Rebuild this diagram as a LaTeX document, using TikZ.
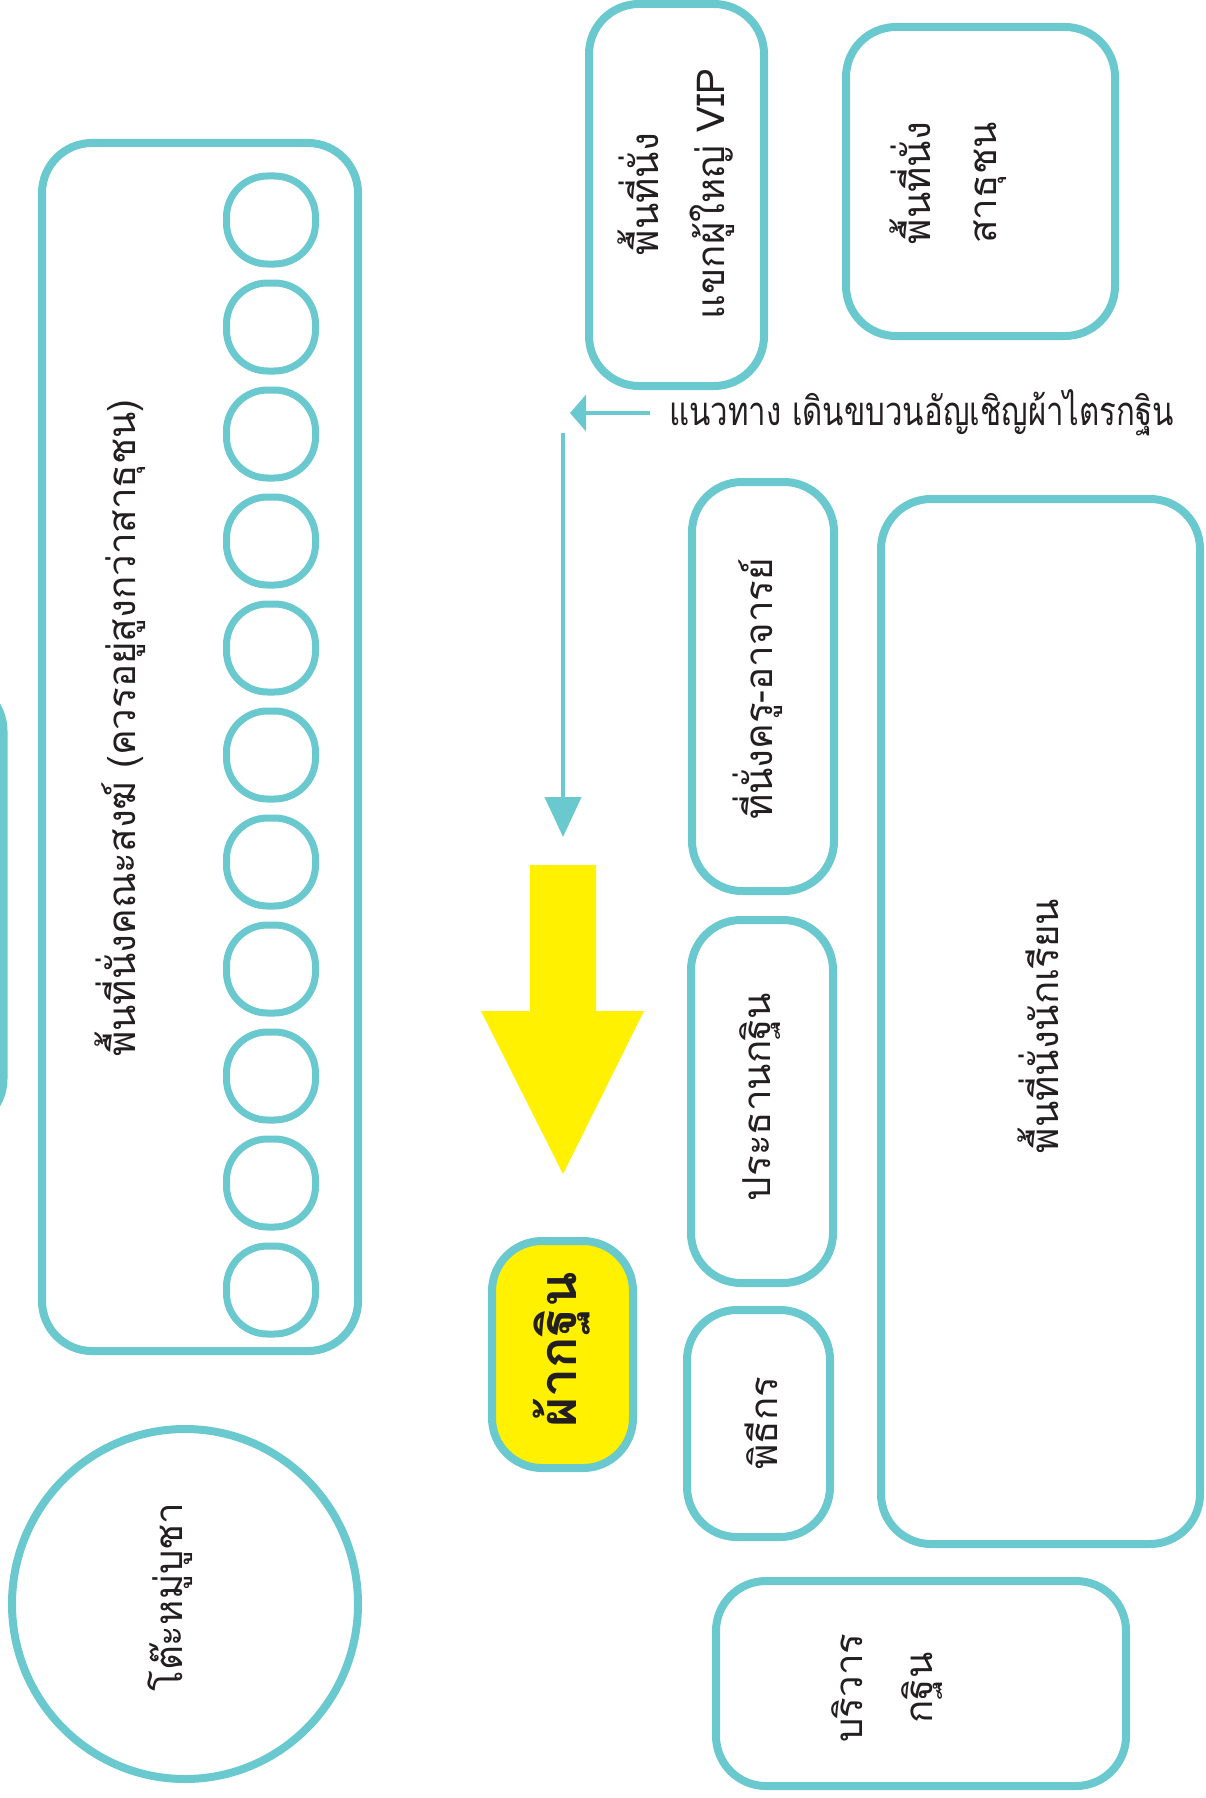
\documentclass[tikz,border=0pt]{standalone}
\usepackage{fontspec}
\newfontfamily\thai[Script=Thai]{Loma}
\newfontfamily\thaicond[Script=Thai,FakeStretch=0.78]{Loma}
\usetikzlibrary{arrows.meta,shapes.geometric}
\definecolor{tealc}{RGB}{106,200,207}
\definecolor{yell}{RGB}{255,241,0}
\definecolor{ink}{RGB}{35,31,32}
\begin{document}
\begin{tikzpicture}[x=1pt,y=-1pt,
  zone/.style={draw=tealc, line width=8pt, rounded corners=50pt, rectangle, inner sep=0pt},
  seat/.style={draw=tealc, line width=7pt, rounded corners=41pt, rectangle, minimum width=89pt, minimum height=88pt, inner sep=0pt},
  lbl/.style={font=\thai\fontsize{38.5}{66}\selectfont, text=ink, rotate=90, align=center, inner sep=0pt},
  flow/.style={draw=tealc, line width=4.5pt},
]
\useasboundingbox (0,0) rectangle (1206,1798);
\clip (0,0) rectangle (1206,1798);
% zones
\node[zone, minimum width=316pt, minimum height=1208pt] (sangha) at (200,747) {};
\node[zone, minimum width=103pt, minimum height=448pt] (side) at (-48,905) {};
\node[draw=tealc, line width=8pt, ellipse, minimum width=346pt, minimum height=350pt, inner sep=0pt] (altar) at (185,1604) {};
\node[zone, minimum width=175pt, minimum height=382pt] (vip) at (676.5,195) {};
\node[zone, minimum width=269pt, minimum height=309pt] (public) at (980.5,181.5) {};
\node[zone, minimum width=142pt, minimum height=409pt] (teacher) at (763,686.5) {};
\node[zone, minimum width=142pt, minimum height=363pt] (chair) at (762,1101.5) {};
\node[zone, minimum width=143pt, minimum height=227pt] (mc) at (758.5,1423.5) {};
\node[zone, minimum width=319pt, minimum height=1045pt] (students) at (1040.5,1021.5) {};
\node[zone, minimum width=410pt, minimum height=205pt] (retinue) at (921,1683.5) {};
\node[zone, fill=yell, minimum width=141pt, minimum height=227pt] (robe) at (562.5,1354.5) {};
% monk seats
\foreach \i in {0,...,10} {
  \node[seat] (seat\i) at (271,220+107*\i) {};
}
% yellow arrow
\fill[yell] (530,865) -- (596,865) -- (596,1011) -- (644,1011) -- (563,1174) -- (481,1011) -- (530,1011) -- cycle;
% labels
\node[lbl] (tsangha) at (120,728) {พื้นที่นั่งคณะสงฆ์ (ควรอยู่สูงกว่าสาธุชน)};
\node[lbl] (tvip) at (676,194) {พื้นที่นั่ง\\แขกผู้ใหญ่ VIP};
\node[lbl] (tpublic) at (948,183) {พื้นที่นั่ง\\สาธุชน};
\node[lbl] (tteacher) at (758,689) {ที่นั่งครู-อาจารย์};
\node[lbl] (tchair) at (760,1097) {ประธานกฐิน};
\node[lbl] (tmc) at (761,1423) {พิธีกร};
\node[lbl] (tstudents) at (1038,1026) {พื้นที่นั่งนักเรียน};
\node[lbl] (taltar) at (170,1597) {โต๊ะหมู่บูชา};
\node[lbl, font=\thai\fontsize{38.5}{70}\selectfont] (tretinue) at (887,1688) {บริวาร\\กฐิน};
\node[lbl, font=\thai\bfseries\fontsize{52}{56}\selectfont] (trobe) at (562,1350) {ผ้ากฐิน};
\node[font=\thaicond\fontsize{40}{44}\selectfont, text=ink, anchor=west, inner sep=0pt] (route) at (669,413) {แนวทาง เดินขบวนอัญเชิญผ้าไตรกฐิน};
% connectors
\coordinate (vtop) at (563,433);
\coordinate (vend) at (563,837);
\coordinate (htip) at (570,413);
\draw[flow, -{Triangle[length=16pt, width=36pt]}] ([xshift=-19pt]route.west) -- (htip);
\draw[flow, -{Triangle[length=40pt, width=36pt]}] (vtop) -- (vend);
\end{tikzpicture}
\end{document}
